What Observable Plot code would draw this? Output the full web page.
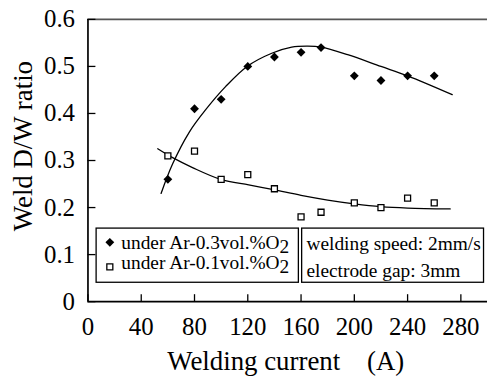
<!DOCTYPE html>
<html><head><meta charset="utf-8">
<script src="https://cdn.jsdelivr.net/npm/d3@7"></script>
<script src="https://cdn.jsdelivr.net/npm/@observablehq/plot@0.6"></script>
<style>html,body{margin:0;padding:0;background:#fff;overflow:hidden;}</style>
</head><body><div id="chart"></div>
<script>
// measured points
const currentAr03 = [60, 80, 100, 120, 140, 160, 175, 200, 220, 240, 260];
const ratioAr03   = [0.26, 0.41, 0.43, 0.50, 0.52, 0.53, 0.54, 0.48, 0.47, 0.48, 0.48];
const currentAr01 = [60, 80, 100, 120, 140, 160, 175, 200, 220, 240, 260];
const ratioAr01   = [0.31, 0.32, 0.26, 0.27, 0.24, 0.18, 0.19, 0.21, 0.20, 0.22, 0.21];
// fitted trend lines
const fitAr03X = [54.9, 63.6, 76, 88.4, 103.3, 119.5, 138, 153, 165, 175, 195, 220, 240, 273.5];
const fitAr03Y = [0.230, 0.293, 0.360, 0.408, 0.457, 0.500, 0.528, 0.541, 0.543, 0.541, 0.525, 0.500, 0.480, 0.440];
const fitAr01X = [52.4, 63.6, 78.5, 99.6, 120.7, 139.3, 160, 180, 200, 220, 240, 272];
const fitAr01Y = [0.325, 0.306, 0.285, 0.260, 0.248, 0.238, 0.226, 0.216, 0.208, 0.202, 0.199, 0.197];
// ticks & labels
const xTicks = [0, 40, 80, 120, 160, 200, 240, 280];
const yTicks = [0, 0.1, 0.2, 0.3, 0.4, 0.5, 0.6];
const xTitle = "Welding current\u00a0\u00a0\u00a0\u00a0(A)";
const yTitle = "Weld D/W ratio";
const seriesLabels = ["under Ar-0.3vol.%O", "under Ar-0.1vol.%O"];
const seriesSub = "2";
const conditions = ["welding speed: 2mm/s", "electrode gap: 3mm"];

const pts03 = currentAr03.map((x, i) => ({x, y: ratioAr03[i]}));
const pts01 = currentAr01.map((x, i) => ({x, y: ratioAr01[i]}));
const fit03 = fitAr03X.map((x, i) => ({x, y: fitAr03Y[i]}));
const fit01 = fitAr01X.map((x, i) => ({x, y: fitAr01Y[i]}));

const FONT = "Liberation Serif";

const chart = Plot.plot({
  width: 492, height: 380,
  marginLeft: 88, marginRight: 2, marginTop: 19, marginBottom: 77,
  style: {fontFamily: FONT, background: "white", overflow: "visible"},
  x: {domain: [0, 300]},
  y: {domain: [0, 0.6]},
  marks: [
    Plot.line(fit03, {x: "x", y: "y", curve: "catmull-rom", stroke: "black", strokeWidth: 1.3}),
    Plot.line(fit01, {x: "x", y: "y", curve: "catmull-rom", stroke: "black", strokeWidth: 1.3}),
    Plot.dot(pts03, {x: "x", y: "y", symbol: "diamond2", r: 4, fill: "black", stroke: "none"}),
    Plot.dot(pts01, {x: "x", y: "y", symbol: "square", r: 3.4, fill: "white", stroke: "black", strokeWidth: 1.3}),
    Plot.ruleY([0.6], {stroke: "#555", strokeWidth: 2}),
    Plot.ruleX([0], {stroke: "black", strokeWidth: 1.7}),
    Plot.ruleY([0], {stroke: "black", strokeWidth: 1.7}),
    Plot.axisX(xTicks, {tickSize: -7, tickFormat: () => "", strokeWidth: 1.3, label: null}),
    Plot.axisX(xTicks, {tickSize: 0, tickPadding: 16, fontSize: 25, fontFamily: FONT, label: null, fill: "black"}),
    Plot.axisY(yTicks, {tickSize: -8, tickFormat: () => "", strokeWidth: 1.3, label: null}),
    Plot.axisY(yTicks, {tickSize: 0, tickPadding: 13, fontSize: 25, fontFamily: FONT, label: null, fill: "black",
      tickFormat: d => d === 0 ? "0" : d3.format(".1f")(d)}),
    Plot.text([xTitle], {frameAnchor: "bottom", textAnchor: "middle", lineAnchor: "bottom", dy: 69, dx: -2,
      fontSize: 27, fontFamily: FONT, fill: "black"}),
    Plot.text([yTitle], {frameAnchor: "left", textAnchor: "middle", lineAnchor: "middle", rotate: -90,
      dx: -65, dy: -14.5, fontSize: 27, fontFamily: FONT, fill: "black"})
  ]
});
document.getElementById("chart").appendChild(chart);

// legend boxes
const svg = d3.select(chart);
const g = svg.append("g").attr("font-family", FONT).attr("font-size", 19.5)
  .attr("fill", "black").attr("text-anchor", "start");
g.append("rect").attr("x", 96.7).attr("y", 229.5).attr("width", 203.5).attr("height", 54.5)
  .attr("fill", "white").attr("stroke", "black").attr("stroke-width", 1.3);
g.append("rect").attr("x", 303.5).attr("y", 229.5).attr("width", 183).attr("height", 54.5)
  .attr("fill", "white").attr("stroke", "black").attr("stroke-width", 1.3);
g.append("path").attr("transform", "translate(110.5,243.8)")
  .attr("d", d3.symbol(d3.symbolDiamond2, Math.PI * 16)()).attr("fill", "black");
g.append("path").attr("transform", "translate(110.5,268.5)")
  .attr("d", d3.symbol(d3.symbolSquare, Math.PI * 3.4 * 3.4)()).attr("fill", "white")
  .attr("stroke", "black").attr("stroke-width", 1.3);
[250.7, 270.7].forEach((yb, i) => {
  const t = g.append("text").attr("x", 122).attr("y", yb);
  t.append("tspan").text(seriesLabels[i]);
  t.append("tspan").attr("dy", 4).text(seriesSub);
});
[252, 278.5].forEach((yb, i) => {
  g.append("text").attr("x", 308.3).attr("y", yb).text(conditions[i]);
});
</script></body></html>
